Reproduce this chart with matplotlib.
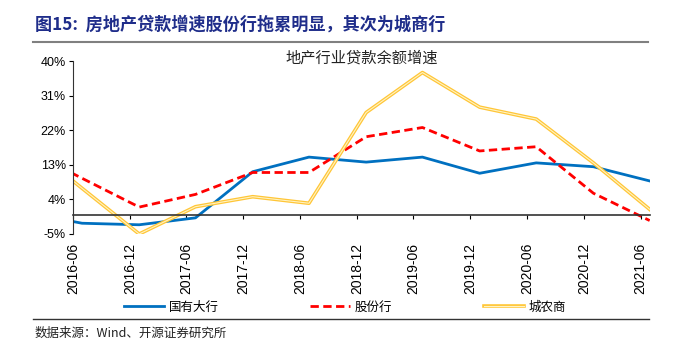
import pandas as pd
import matplotlib.pyplot as plt
import matplotlib.patheffects as pe
from matplotlib.lines import Line2D

plt.rcParams['font.family'] = ['Liberation Sans', 'Noto Sans CJK SC']

# semi-annual data, month-end (first point lies left of the visible window)
dates = ['2015-12-31', '2016-06-30', '2016-12-31', '2017-06-30', '2017-12-31', '2018-06-30',
         '2018-12-31', '2019-06-30', '2019-12-31', '2020-06-30', '2020-12-31', '2021-06-30']
big_banks = [0.6, -2.2, -2.6, -0.8, 11.2, 15.0, 13.7, 15.0, 10.8, 13.5, 12.5, 8.8]
joint_stock = [17.0, 9.5, 2.0, 5.3, 11.0, 11.0, 20.3, 22.7, 16.6, 17.7, 5.6, -1.5]
city_rural = [18.8, 6.9, -5.0, 2.1, 4.7, 3.0, 26.6, 37.0, 28.0, 24.9, 13.5, 1.4]
tick_labels = ['2016-06', '2016-12', '2017-06', '2017-12', '2018-06', '2018-12',
               '2019-06', '2019-12', '2020-06', '2020-12', '2021-06']
yticks = [-5, 4, 13, 22, 31, 40]

x = pd.to_datetime(dates)
tick_pos = pd.to_datetime([t + '-01' for t in tick_labels])

fig = plt.figure(figsize=(6.76, 3.49), dpi=100)
ax = fig.add_axes([73 / 676, 1 - 234 / 349, 577 / 676, 173 / 349])

ax.plot(x, big_banks, color='#0070C0', lw=2.0, label='国有大行')
ax.plot(x, joint_stock, color='#FF0000', lw=2.0, dashes=(3, 1.6), label='股份行')
# double-line look: gold stroke under a pale core
ax.plot(x, city_rural, color='#FFF3C4', lw=0.8, label='城农商',
        path_effects=[pe.Stroke(linewidth=2.6, foreground='#FFC637'), pe.Normal()])

ax.set_xlim(pd.Timestamp('2016-06-01'), pd.Timestamp('2021-07-01'))
ax.set_ylim(-5, 40)
ax.set_yticks(yticks)
ax.set_yticklabels([f'{v}%' for v in yticks], fontsize=9)
ax.set_xticks(tick_pos)
ax.set_xticklabels(tick_labels, fontsize=9.2)

for s in ['top', 'right']:
    ax.spines[s].set_visible(False)
ax.spines['bottom'].set_position(('data', 0))
ax.spines['bottom'].set_color('#333333')
ax.spines['bottom'].set_linewidth(1.2)
ax.spines['left'].set_color('#333333')
ax.spines['left'].set_linewidth(0.8)
ax.tick_params(axis='x', direction='out', length=3, width=0.8, pad=17, labelrotation=90)
ax.tick_params(axis='y', direction='out', length=3, width=0.8, pad=2)

ax.text(0.5, 1.02, '地产行业贷款余额增速', transform=ax.transAxes, ha='center', va='center',
        fontsize=11, family=['Noto Sans CJK SC'], color='#222222')

handles, labels = ax.get_legend_handles_labels()
fig.legend(handles, labels, loc='center', bbox_to_anchor=(345 / 676, 1 - 307 / 349),
           ncol=3, frameon=False, handlelength=3.2, handletextpad=0.4, columnspacing=7.3,
           prop={'family': 'Noto Sans CJK SC', 'size': 9})

fig.text(35 / 676, 1 - 25 / 349, '图15:  房地产贷款增速股份行拖累明显，其次为城商行',
         fontsize=12.3, fontweight='bold', color='#1F2D8A', va='center', ha='left',
         family=['Noto Sans CJK SC'])
fig.add_artist(Line2D([33 / 676, 648 / 676], [1 - 42 / 349] * 2, color='#808080', lw=1.5))
fig.add_artist(Line2D([33 / 676, 649 / 676], [1 - 319 / 349] * 2, color='#333333', lw=1.0))
fig.text(35 / 676, 1 - 333 / 349, '数据来源：Wind、开源证券研究所', fontsize=9, va='center', ha='left',
         family=['Noto Sans CJK SC'], color='#222222')

fig.savefig('out.png', dpi=100)
